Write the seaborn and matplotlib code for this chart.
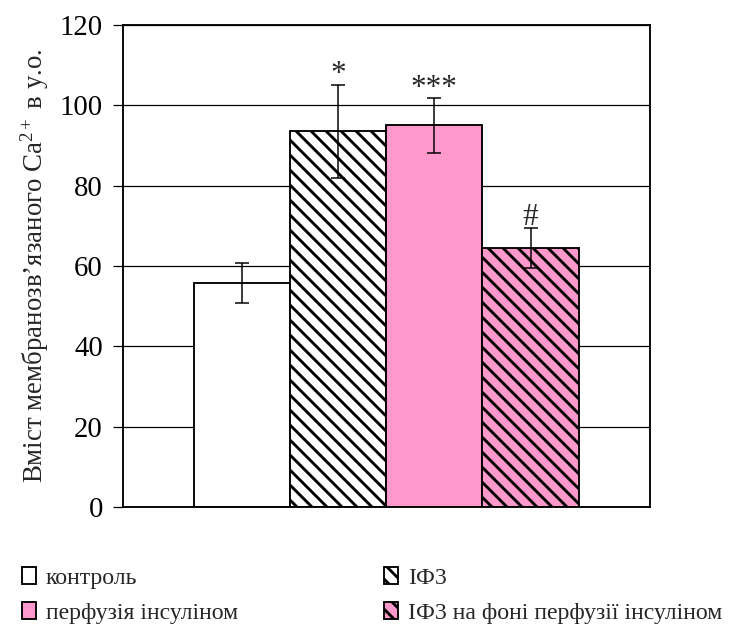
import matplotlib
matplotlib.use("Agg")
import matplotlib.pyplot as plt
from matplotlib.patches import Patch
import seaborn as sns
import pandas as pd

# ---- data ----
categories = ["контроль", "ІФ3", "перфузія інсуліном", "ІФ3 на фоні перфузії інсуліном"]
values = [55.8, 93.5, 95.0, 64.5]
errors = [4.9, 11.6, 6.8, 5.0]
marks = ["", "*", "***", "#"]
yticks = [0, 20, 40, 60, 80, 100, 120]
ylabel = "Вміст мембранозв\u2019язаного Ca$^{2+}$ в у.о."

face_colors = ["white", "white", "#FF99CC", "#FF99CC"]
hatches = ["", "\\\\", "", "\\\\"]

DPI = 90
sns.set_style("white")
plt.rcParams["font.family"] = ["Liberation Serif", "DejaVu Serif"]
plt.rcParams["mathtext.fontset"] = "custom"
plt.rcParams["mathtext.rm"] = "Liberation Serif"
plt.rcParams["mathtext.it"] = "Liberation Serif:italic"
plt.rcParams["hatch.linewidth"] = 2.3

fig = plt.figure(figsize=(740 / DPI, 632 / DPI), dpi=DPI)
ax = fig.add_axes([123 / 740, 1 - 507 / 632, (650 - 123) / 740, (507 - 25) / 632])

df = pd.DataFrame({"cat": categories, "val": values})
sns.barplot(data=df, x="cat", y="val", order=categories, color="white",
            width=1.0, errorbar=None, ax=ax, zorder=2)

for patch, fc, h in zip(ax.patches, face_colors, hatches):
    patch.set_facecolor(fc)
    patch.set_edgecolor("black")
    patch.set_linewidth(1.5)
    patch.set_hatch(h)

xs = list(range(len(categories)))
ax.errorbar(xs, values, yerr=errors, fmt="none", ecolor="black",
            elinewidth=1.2, capsize=5.5, capthick=1.2, zorder=4)

for x, v, e, m in zip(xs, values, errors, marks):
    if m:
        ax.text(x, v + e + 0.6, m, ha="center", va="baseline", fontsize=25, zorder=5)

ax.set_xlim(-1.237, 4.242)
ax.set_ylim(0, 120)
ax.set_yticks(yticks)
ax.set_yticklabels([str(t) for t in yticks], fontsize=23)
ax.set_xticks([])
ax.set_xlabel("")
ax.set_ylabel(ylabel, fontsize=21.5)
ax.yaxis.set_label_coords(-0.136, 0.5)

ax.yaxis.grid(True, color="black", linewidth=1.0, zorder=0)
ax.set_axisbelow(True)
ax.tick_params(axis="y", direction="out", length=8, width=1.0, pad=8, left=True, colors="black")
for s in ax.spines.values():
    s.set_visible(True)
    s.set_color("black")
    s.set_linewidth(1.5)

def handle(i):
    return Patch(facecolor=face_colors[i], edgecolor="black", hatch=hatches[i], linewidth=1.5)

leg_kw = dict(loc="upper left", frameon=False, fontsize=19, borderpad=0,
              handlelength=0.58, handleheight=0.72, handletextpad=0.42,
              labelspacing=0.55, borderaxespad=0)
leg1 = fig.legend([handle(0), handle(2)], [categories[0], categories[2]],
                  bbox_to_anchor=(22 / 740, 1 - 567 / 632), **leg_kw)
leg2 = fig.legend([handle(1), handle(3)], [categories[1], categories[3]],
                  bbox_to_anchor=(384 / 740, 1 - 567 / 632), **leg_kw)

fig.savefig("out.png", dpi=DPI)
